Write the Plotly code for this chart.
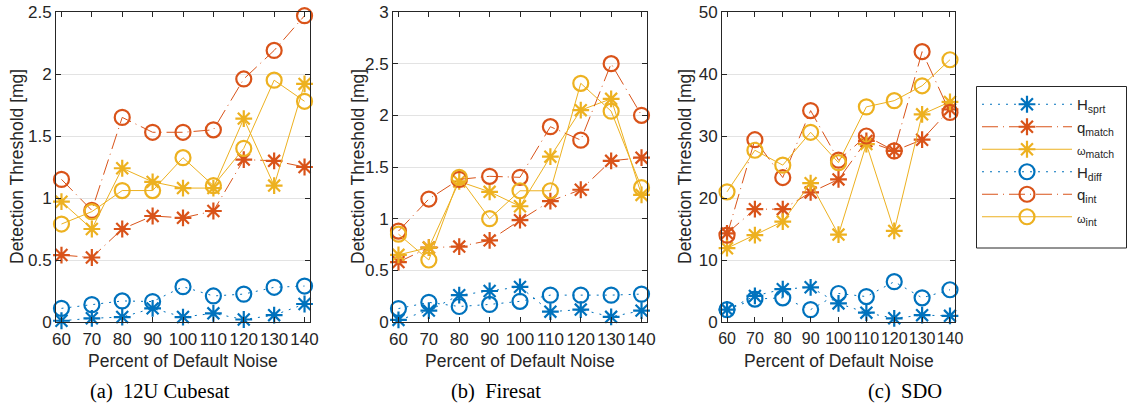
import plotly.graph_objects as go

W, H = 1127, 409

noise = [60, 70, 80, 90, 100, 110, 120, 130, 140]

# 12U Cubesat
cube_h_sprt = [0.01, 0.03, 0.04, 0.11, 0.04, 0.07, 0.02, 0.055, 0.145]
cube_q_match = [0.54, 0.52, 0.75, 0.855, 0.84, 0.895, 1.31, 1.30, 1.25]
cube_w_match = [0.97, 0.75, 1.24, 1.13, 1.08, 1.08, 1.64, 1.10, 1.92]
cube_h_diff = [0.11, 0.14, 0.17, 0.165, 0.285, 0.21, 0.225, 0.28, 0.29]
cube_q_int = [1.15, 0.90, 1.65, 1.53, 1.53, 1.55, 1.96, 2.19, 2.47]
cube_w_int = [0.79, 0.89, 1.06, 1.06, 1.325, 1.10, 1.40, 1.95, 1.78]

# Firesat
fire_h_sprt = [0.02, 0.11, 0.26, 0.30, 0.34, 0.10, 0.12, 0.05, 0.11]
fire_q_match = [0.58, 0.72, 0.73, 0.79, 0.985, 1.17, 1.28, 1.56, 1.59]
fire_w_match = [0.65, 0.72, 1.36, 1.26, 1.12, 1.60, 2.05, 2.16, 1.23]
fire_h_diff = [0.13, 0.19, 0.15, 0.17, 0.20, 0.26, 0.26, 0.26, 0.27]
fire_q_int = [0.88, 1.19, 1.38, 1.41, 1.40, 1.89, 1.76, 2.50, 2.00]
fire_w_int = [0.85, 0.60, 1.40, 1.00, 1.27, 1.27, 2.31, 2.04, 1.30]

# SDO
sdo_h_sprt = [2.0, 4.2, 5.3, 5.6, 3.0, 1.5, 0.6, 1.1, 1.0]
sdo_q_match = [14.3, 18.2, 18.2, 20.9, 23.0, 29.2, 27.6, 29.4, 34.3]
sdo_w_match = [11.9, 14.0, 16.2, 22.4, 14.1, 28.7, 14.7, 33.5, 35.5]
sdo_h_diff = [2.0, 3.7, 3.9, 2.0, 4.6, 4.1, 6.5, 3.9, 5.2]
sdo_q_int = [14.0, 29.4, 23.3, 34.1, 26.1, 30.0, 27.6, 43.6, 33.8]
sdo_w_int = [21.0, 27.7, 25.3, 30.6, 25.7, 34.7, 35.7, 38.1, 42.3]

OMEGA = '<span style="font-size:11px">ω</span>'
series_names = ["H<sub>sprt</sub>", "q<sub>match</sub>", OMEGA + "<sub>match</sub>",
                "H<sub>diff</sub>", "q<sub>int</sub>", OMEGA + "<sub>int</sub>"]

panels = [
    [cube_h_sprt, cube_q_match, cube_w_match, cube_h_diff, cube_q_int, cube_w_int],
    [fire_h_sprt, fire_q_match, fire_w_match, fire_h_diff, fire_q_int, fire_w_int],
    [sdo_h_sprt, sdo_q_match, sdo_w_match, sdo_h_diff, sdo_q_int, sdo_w_int],
]
y_ranges = [[0, 2.5], [0, 3], [0, 50]]
y_ticks = [[0, 0.5, 1, 1.5, 2, 2.5], [0, 0.5, 1, 1.5, 2, 2.5, 3], [0, 10, 20, 30, 40, 50]]
captions = ["(a)  12U Cubesat", "(b)  Firesat", "(c)  SDO"]

BLUE, RED, YELLOW = "#0072BD", "#D95319", "#EDB120"
DOT = "2px,6px"
DASHDOT = "16px,5px,1px,5px"
styles = [
    dict(color=BLUE, dash=DOT, symbol="asterisk-open", size=14),
    dict(color=RED, dash=DASHDOT, symbol="asterisk-open", size=14),
    dict(color=YELLOW, dash="solid", symbol="asterisk-open", size=14),
    dict(color=BLUE, dash=DOT, symbol="circle-open", size=15),
    dict(color=RED, dash=DASHDOT, symbol="circle-open", size=15),
    dict(color=YELLOW, dash="solid", symbol="circle-open", size=15),
]

# plot-area pixel boxes (left, right) for each panel; shared top/bottom
x_px = [(56, 310), (393, 647), (722, 955)]
top_px, bot_px = 12, 322
ylabel_x = [17, 358, 685]
caption_x = [160, 496, 905]
xtick_fs = [17, 17, 16]

AXC = "#262626"
FONT = "Liberation Sans, Arial, sans-serif"
FS = 17.5

fig = go.Figure()
for p, data in enumerate(panels):
    xa = "x" if p == 0 else f"x{p+1}"
    ya = "y" if p == 0 else f"y{p+1}"
    for s, vals in enumerate(data):
        st = styles[s]
        fig.add_trace(go.Scatter(
            x=noise, y=vals, xaxis=xa, yaxis=ya,
            mode="lines+markers", name=series_names[s],
            legendgroup=str(s), showlegend=(p == 0),
            line=dict(color=st["color"], width=1, dash=st["dash"]),
            marker=dict(symbol=st["symbol"], size=st["size"], color=st["color"],
                        line=dict(color=st["color"], width=2.2)),
            cliponaxis=False,
        ))

layout = dict(
    width=W, height=H,
    margin=dict(l=0, r=0, t=0, b=0, pad=0, autoexpand=False),
    paper_bgcolor="white", plot_bgcolor="white",
    font=dict(family=FONT, size=FS, color=AXC),
    showlegend=True,
    legend=dict(
        x=977 / W, y=1 - 88 / H, xanchor="left", yanchor="top",
        borderwidth=0, bgcolor="rgba(0,0,0,0)",
        font=dict(family=FONT, size=15, color=AXC),
        itemwidth=90, tracegroupgap=0,
    ),
    # legend frame
    shapes=[dict(type="rect", xref="paper", yref="paper",
                 x0=976.5 / W, x1=1126.5 / W, y0=1 - 248 / H, y1=1 - 86.5 / H,
                 line=dict(color=AXC, width=1), fillcolor="rgba(0,0,0,0)", layer="below")],
)
annotations = []
for p in range(3):
    sx = "" if p == 0 else str(p + 1)
    l, r = x_px[p]
    layout[f"xaxis{sx}"] = dict(
        domain=[l / W, r / W], range=[58.2, 141.8], anchor=f"y{sx}",
        tickvals=noise, ticks="inside", ticklen=5, tickcolor=AXC, tickangle=0,
        showline=True, linecolor=AXC, linewidth=1, mirror="ticks",
        showgrid=False, zeroline=False, tickfont=dict(size=xtick_fs[p]),
        ticklabelstandoff=2,
    )
    layout[f"yaxis{sx}"] = dict(
        domain=[1 - bot_px / H, 1 - top_px / H], range=y_ranges[p], anchor=f"x{sx}",
        tickvals=y_ticks[p], ticks="inside", ticklen=5, tickcolor=AXC,
        showline=True, linecolor=AXC, linewidth=1, mirror="ticks",
        showgrid=True, gridcolor="#e3e3e3", gridwidth=1, zeroline=False,
        tickfont=dict(size=17),
    )
    annotations.append(dict(
        text="Percent of Default Noise", xref="paper", yref="paper",
        x=(l + r) / 2 / W, y=1 - 361 / H, xanchor="center", yanchor="middle",
        showarrow=False, font=dict(family=FONT, size=FS, color=AXC),
    ))
    annotations.append(dict(
        text="Detection Threshold [mg]", xref="paper", yref="paper",
        x=ylabel_x[p] / W, y=1 - 167 / H, xanchor="center", yanchor="middle",
        textangle=-90, showarrow=False, font=dict(family=FONT, size=FS, color=AXC),
    ))
    annotations.append(dict(
        text=captions[p], xref="paper", yref="paper",
        x=caption_x[p] / W, y=1 - 391 / H, xanchor="center", yanchor="middle",
        showarrow=False, font=dict(family="Liberation Serif, Times New Roman, serif",
                                   size=20.5, color="black"),
    ))
layout["annotations"] = annotations
fig.update_layout(**layout)

fig.write_html("out.html")
